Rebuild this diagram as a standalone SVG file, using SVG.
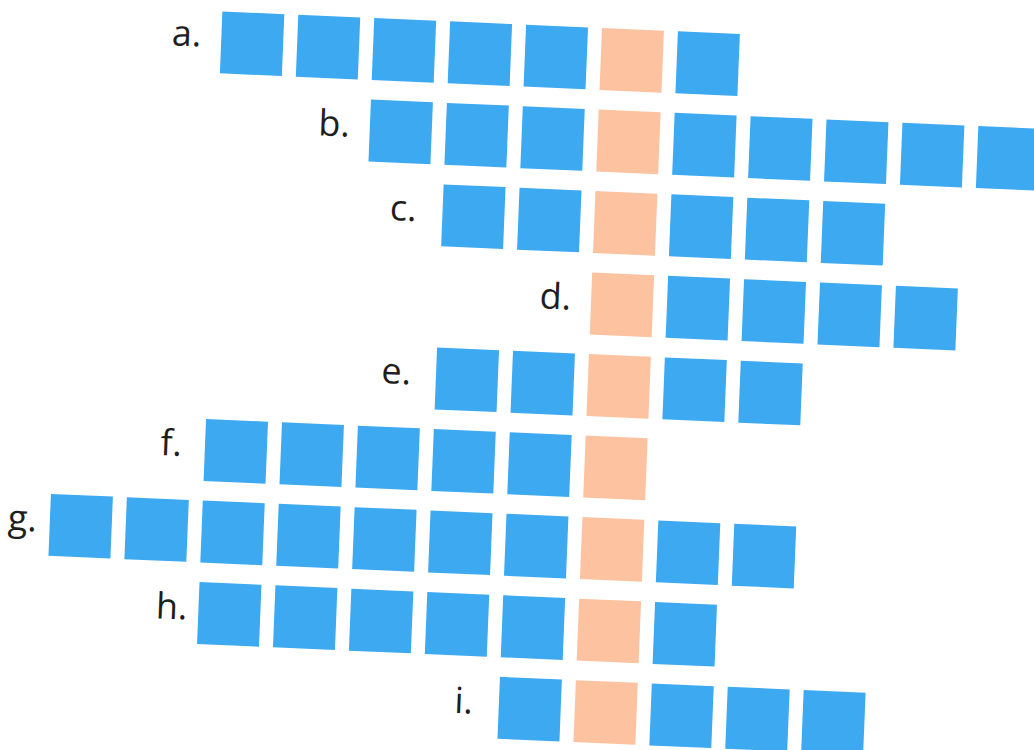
<svg xmlns="http://www.w3.org/2000/svg" width="1034" height="750" viewBox="0 0 1034 750">
<style>
.b{fill:#3ca9f0}
.o{fill:#fdc3a0}
.l{font-family:"Open Sans","Noto Sans","Liberation Sans",sans-serif;font-size:36px;fill:#1e1e1e;text-anchor:end}
</style>
<rect width="1034" height="750" fill="#ffffff"/>
<g transform="matrix(0.999 0.0436 -0.040 0.999 1.72 -26.22)">
<g id="row-a">
<text class="l" x="202" y="64">a.</text>
<rect class="b" x="222" y="28" width="62" height="62"/>
<rect class="b" x="298" y="28" width="62" height="62"/>
<rect class="b" x="374" y="28" width="62" height="62"/>
<rect class="b" x="450" y="28" width="62" height="62"/>
<rect class="b" x="526" y="28" width="62" height="62"/>
<rect class="o" x="602" y="28" width="62" height="62"/>
<rect class="b" x="678" y="28" width="62" height="62"/>
</g>
<g id="row-b">
<text class="l" x="354" y="147.6">b.</text>
<rect class="b" x="374" y="109.6" width="62" height="62"/>
<rect class="b" x="450" y="109.6" width="62" height="62"/>
<rect class="b" x="526" y="109.6" width="62" height="62"/>
<rect class="o" x="602" y="109.6" width="62" height="62"/>
<rect class="b" x="678" y="109.6" width="62" height="62"/>
<rect class="b" x="754" y="109.6" width="62" height="62"/>
<rect class="b" x="830" y="109.6" width="62" height="62"/>
<rect class="b" x="906" y="109.6" width="62" height="62"/>
<rect class="b" x="982" y="109.6" width="62" height="62"/>
</g>
<g id="row-c">
<text class="l" x="424" y="229.2">c.</text>
<rect class="b" x="450" y="191.2" width="62" height="62"/>
<rect class="b" x="526" y="191.2" width="62" height="62"/>
<rect class="o" x="602" y="191.2" width="62" height="62"/>
<rect class="b" x="678" y="191.2" width="62" height="62"/>
<rect class="b" x="754" y="191.2" width="62" height="62"/>
<rect class="b" x="830" y="191.2" width="62" height="62"/>
</g>
<g id="row-d">
<text class="l" x="582" y="310.8">d.</text>
<rect class="o" x="602" y="272.8" width="62" height="62"/>
<rect class="b" x="678" y="272.8" width="62" height="62"/>
<rect class="b" x="754" y="272.8" width="62" height="62"/>
<rect class="b" x="830" y="272.8" width="62" height="62"/>
<rect class="b" x="906" y="272.8" width="62" height="62"/>
</g>
<g id="row-e">
<text class="l" x="425" y="392.4">e.</text>
<rect class="b" x="450" y="354.4" width="62" height="62"/>
<rect class="b" x="526" y="354.4" width="62" height="62"/>
<rect class="o" x="602" y="354.4" width="62" height="62"/>
<rect class="b" x="678" y="354.4" width="62" height="62"/>
<rect class="b" x="754" y="354.4" width="62" height="62"/>
</g>
<g id="row-f">
<text class="l" x="199" y="474">f.</text>
<rect class="b" x="222" y="436" width="62" height="62"/>
<rect class="b" x="298" y="436" width="62" height="62"/>
<rect class="b" x="374" y="436" width="62" height="62"/>
<rect class="b" x="450" y="436" width="62" height="62"/>
<rect class="b" x="526" y="436" width="62" height="62"/>
<rect class="o" x="602" y="436" width="62" height="62"/>
</g>
<g id="row-g">
<text class="l" x="57" y="555.6">g.</text>
<rect class="b" x="70" y="517.6" width="62" height="62"/>
<rect class="b" x="146" y="517.6" width="62" height="62"/>
<rect class="b" x="222" y="517.6" width="62" height="62"/>
<rect class="b" x="298" y="517.6" width="62" height="62"/>
<rect class="b" x="374" y="517.6" width="62" height="62"/>
<rect class="b" x="450" y="517.6" width="62" height="62"/>
<rect class="b" x="526" y="517.6" width="62" height="62"/>
<rect class="o" x="602" y="517.6" width="62" height="62"/>
<rect class="b" x="678" y="517.6" width="62" height="62"/>
<rect class="b" x="754" y="517.6" width="62" height="62"/>
</g>
<g id="row-h">
<text class="l" x="211" y="637.2">h.</text>
<rect class="b" x="222" y="599.2" width="62" height="62"/>
<rect class="b" x="298" y="599.2" width="62" height="62"/>
<rect class="b" x="374" y="599.2" width="62" height="62"/>
<rect class="b" x="450" y="599.2" width="62" height="62"/>
<rect class="b" x="526" y="599.2" width="62" height="62"/>
<rect class="o" x="602" y="599.2" width="62" height="62"/>
<rect class="b" x="678" y="599.2" width="62" height="62"/>
</g>
<g id="row-i">
<text class="l" x="500" y="718.8">i.</text>
<rect class="b" x="526" y="680.8" width="62" height="62"/>
<rect class="o" x="602" y="680.8" width="62" height="62"/>
<rect class="b" x="678" y="680.8" width="62" height="62"/>
<rect class="b" x="754" y="680.8" width="62" height="62"/>
<rect class="b" x="830" y="680.8" width="62" height="62"/>
</g>
</g>
</svg>
